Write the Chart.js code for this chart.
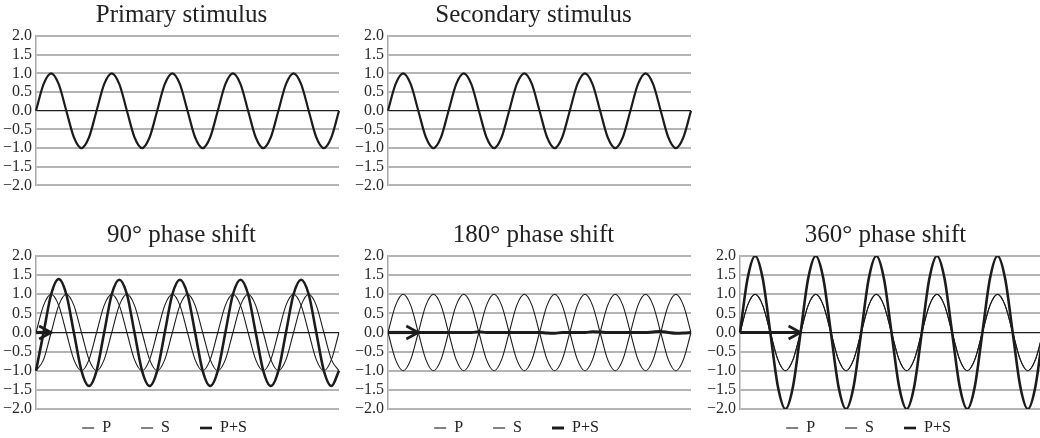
<!DOCTYPE html>
<html>
<head>
<meta charset="utf-8">
<script src="https://cdn.jsdelivr.net/npm/chart.js@4"></script>
<style>
  html, body { margin: 0; padding: 0; background: #fff; overflow: hidden; width: 1040px; height: 438px; }
  canvas { position: absolute; }
</style>
</head>
<body>
<canvas id="cPrimary" width="364" height="199" style="left:0;top:0"></canvas>
<canvas id="cSecondary" width="364" height="199" style="left:352px;top:0"></canvas>
<canvas id="c90" width="364" height="245" style="left:0;top:220px"></canvas>
<canvas id="c180" width="364" height="245" style="left:352px;top:220px"></canvas>
<canvas id="c360" width="364" height="245" style="left:704px;top:220px"></canvas>
<script>
// phase angle (degrees) of each sample
const angles = [0, 45, 90, 135, 180, 225, 270, 315, 360, 405, 450, 495, 540, 585, 630, 675,
  720, 765, 810, 855, 900, 945, 990, 1035, 1080, 1125, 1170, 1215, 1260, 1305, 1350, 1395,
  1440, 1485, 1530, 1575, 1620, 1665, 1710, 1755, 1800]

const primaryWave = [0, 0.71, 1, 0.71, 0, -0.71, -1, -0.71,
  0, 0.71, 1, 0.71, 0, -0.71, -1, -0.71,
  0, 0.71, 1, 0.71, 0, -0.71, -1, -0.71,
  0, 0.71, 1, 0.71, 0, -0.71, -1, -0.71,
  0, 0.71, 1, 0.71, 0, -0.71, -1, -0.71, 0]

const secondaryWave = [0, 0.71, 1, 0.71, 0, -0.71, -1, -0.71,
  0, 0.71, 1, 0.71, 0, -0.71, -1, -0.71,
  0, 0.71, 1, 0.71, 0, -0.71, -1, -0.71,
  0, 0.71, 1, 0.71, 0, -0.71, -1, -0.71,
  0, 0.71, 1, 0.71, 0, -0.71, -1, -0.71, 0]

const shift90S = [-1, -0.71, 0, 0.71, 1, 0.71, 0, -0.71,
  -1, -0.71, 0, 0.71, 1, 0.71, 0, -0.71,
  -1, -0.71, 0, 0.71, 1, 0.71, 0, -0.71,
  -1, -0.71, 0, 0.71, 1, 0.71, 0, -0.71,
  -1, -0.71, 0, 0.71, 1, 0.71, 0, -0.71, -1]

const shift90Sum = [-1, 0, 1, 1.4, 1, 0, -1, -1.4,
  -1, 0, 1, 1.38, 1, 0, -1, -1.4,
  -1, 0, 1, 1.38, 1, 0, -1, -1.4,
  -1, 0, 1, 1.38, 1, 0, -1, -1.4,
  -1, 0, 1, 1.38, 1, 0, -1, -1.4, -1]

const shift180S = [0, -0.71, -1, -0.71, 0, 0.71, 1, 0.71,
  0, -0.71, -1, -0.71, 0, 0.71, 1, 0.71,
  0, -0.71, -1, -0.71, 0, 0.71, 1, 0.71,
  0, -0.71, -1, -0.71, 0, 0.71, 1, 0.71,
  0, -0.71, -1, -0.71, 0, 0.71, 1, 0.71, 0]

const shift180Sum = [0, 0, 0, 0, 0, 0, 0, 0,
  0, 0, 0, 0, 0.02, 0, 0, 0,
  0, 0, 0, 0, 0, -0.015, -0.02, 0,
  0, 0, 0, 0.02, 0.015, 0, 0, 0,
  0, 0, 0, 0.015, 0.025, 0, -0.02, -0.015, 0]

const shift360S = [0, 0.71, 1, 0.71, 0, -0.71, -1, -0.71,
  0, 0.71, 1, 0.71, 0, -0.71, -1, -0.71,
  0, 0.71, 1, 0.71, 0, -0.71, -1, -0.71,
  0, 0.71, 1, 0.71, 0, -0.71, -1, -0.71,
  0, 0.71, 1, 0.71, 0, -0.71, -1, -0.71, 0]

const shift360Sum = [0, 1.41, 2, 1.41, 0, -1.41, -2, -1.41,
  0, 1.41, 2, 1.41, 0, -1.41, -2, -1.41,
  0, 1.41, 2, 1.41, 0, -1.41, -2, -1.41,
  0, 1.41, 2, 1.41, 0, -1.41, -2, -1.41,
  0, 1.41, 2, 1.41, 0, -1.41, -2, -1.41, 0]

const ink = '#1c1c1c'
const serif = 'Liberation Serif'

// arrow along the zero line showing the phase shift
const phaseArrow = {
    id: 'phaseArrow',
    afterDatasetsDraw(chart, args, opts) {
        if (!opts.shift) return
        const { ctx, scales: { x, y } } = chart
        const x0 = x.getPixelForValue(0)
        const x1 = x.getPixelForValue(angles.indexOf(opts.shift))
        const y0 = y.getPixelForValue(0)
        ctx.save()
        ctx.strokeStyle = ink
        ctx.lineWidth = 3.2
        ctx.beginPath()
        ctx.moveTo(x0, y0)
        ctx.lineTo(x1 - 2, y0)
        ctx.stroke()
        ctx.lineWidth = 2.6
        ctx.lineJoin = 'miter'
        ctx.beginPath()
        ctx.moveTo(x1 - 12, y0 - 6.5)
        ctx.lineTo(x1, y0)
        ctx.lineTo(x1 - 12, y0 + 6.5)
        ctx.stroke()
        ctx.restore()
    }
}

// nudge title and legend boxes after layout
const boxShift = {
    id: 'boxShift',
    afterLayout(chart, args, opts) {
        const move = (box, dx, dy) => {
            if (!box || !box.options.display) return
            box.left += dx; box.right += dx
            box.top += dy; box.bottom += dy
        }
        move(chart.titleBlock, opts.titleDx, 0)
        move(chart.legend, opts.legendDx, opts.legendDy)
    }
}

const line = (label, data, width) => ({
    label: label,
    data: data,
    borderColor: ink,
    backgroundColor: ink,
    borderWidth: width,
    pointRadius: 0,
    fill: false,
    cubicInterpolationMode: 'monotone'
})

const makeChart = (id, title, datasets, shift, showLegend) => {
    new Chart(document.getElementById(id), {
        type: 'line',
        data: { labels: angles, datasets: datasets },
        plugins: [phaseArrow, boxShift],
        options: {
            responsive: false,
            animation: false,
            events: [],
            layout: { padding: { left: 0, right: 25, top: 0, bottom: showLegend ? 0 : 1 } },
            scales: {
                x: { display: false },
                y: {
                    min: -2,
                    max: 2,
                    afterFit: (scale) => { scale.width = 36 },
                    ticks: {
                        stepSize: 0.5,
                        autoSkip: false,
                        padding: 4,
                        color: '#2a2a2a',
                        font: { family: serif, size: 16 },
                        callback: v => v.toFixed(1).replace('-', '\u2212')
                    },
                    grid: {
                        drawTicks: false,
                        color: c => (c.tick && c.tick.value === 0) ? ink : '#b4b4b4',
                        lineWidth: c => (c.tick && c.tick.value === 0) ? 1.2 : 2
                    },
                    border: { display: true, color: '#a8a8a8', width: 1.5 }
                }
            },
            plugins: {
                title: {
                    display: true,
                    text: title,
                    color: '#222',
                    font: { family: serif, size: 25, weight: 'normal' },
                    padding: { top: 0, bottom: 6 }
                },
                legend: {
                    display: showLegend,
                    position: 'bottom',
                    labels: {
                        usePointStyle: true,
                        pointStyle: 'line',
                        pointStyleWidth: 12,
                        padding: 30,
                        color: '#222',
                        font: { family: serif, size: 16 }
                    }
                },
                tooltip: { enabled: false },
                phaseArrow: { shift: shift },
                boxShift: { titleDx: 12, legendDx: -5, legendDy: -19 }
            }
        }
    })
}

makeChart('cPrimary', 'Primary stimulus', [line('P', primaryWave, 2.2)], 0, false)
makeChart('cSecondary', 'Secondary stimulus', [line('S', secondaryWave, 2.2)], 0, false)
makeChart('c90', '90\u00b0 phase shift', [
    line('P', primaryWave, 1.1),
    line('S', shift90S, 1.1),
    line('P+S', shift90Sum, 2.6)
], 90, true)
makeChart('c180', '180\u00b0 phase shift', [
    line('P', primaryWave, 1.1),
    line('S', shift180S, 1.1),
    line('P+S', shift180Sum, 3)
], 180, true)
makeChart('c360', '360\u00b0 phase shift', [
    line('P', primaryWave, 1.1),
    line('S', shift360S, 1.1),
    line('P+S', shift360Sum, 2.6)
], 360, true)
</script>
</body>
</html>
